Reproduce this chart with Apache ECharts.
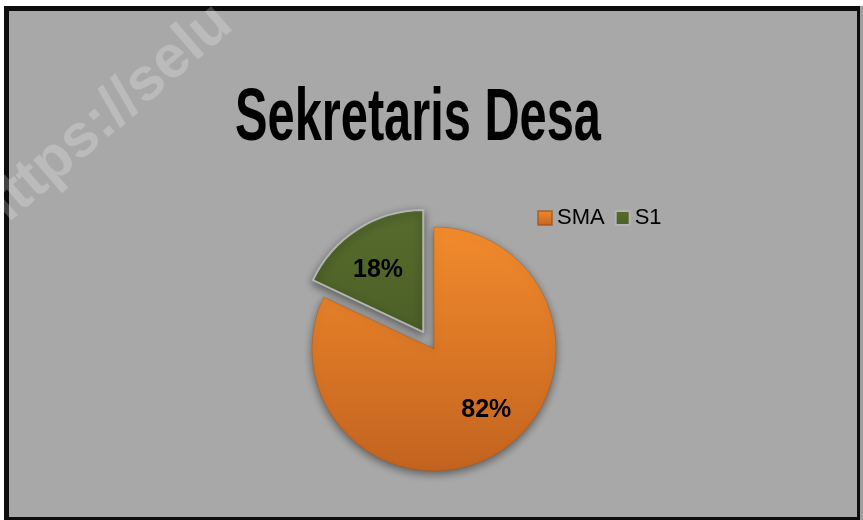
<!DOCTYPE html>
<html>
<head>
<meta charset="utf-8">
<script src="https://cdn.jsdelivr.net/npm/echarts@6/dist/echarts.min.js"></script>
<style>
  html, body { margin: 0; padding: 0; background: #ffffff; }
  #chart { width: 863px; height: 520px; }
</style>
</head>
<body>
<div id="chart"></div>
<script>
// data
const categories = ['SMA', 'S1'];
const values = [82, 18];
const titleText = 'Sekretaris Desa';
const watermarkText = 'https://selu';

const colors = [
  new echarts.graphic.LinearGradient(0, 0, 0, 1, [
    { offset: 0, color: '#f28b2d' },
    { offset: 1, color: '#c3631f' }
  ]),
  new echarts.graphic.LinearGradient(0, 0, 0, 1, [
    { offset: 0, color: '#576c2d' },
    { offset: 1, color: '#4c5f26' }
  ])
];

const chart = echarts.init(document.getElementById('chart'));

const pieData = categories.map((name, i) => ({
  name: name,
  value: values[i],
  selected: i === 1,
  itemStyle: {
    color: colors[i],
    borderColor: i === 1 ? '#b4b4b4' : 'rgba(160,80,20,0.6)',
    borderWidth: i === 1 ? 2 : 0.6
  }
}));

const option = {
  animation: false,
  backgroundColor: '#ffffff',
  graphic: [
    // frame
    { type: 'rect', z: -10, shape: { x: 4, y: 6, width: 856, height: 520 }, style: { fill: '#0d0d0d' } },
    { type: 'rect', z: -9, shape: { x: 9, y: 11, width: 848, height: 506 }, style: { fill: '#a8a8a8' } },
    { type: 'rect', z: -9, shape: { x: 860, y: 6, width: 3, height: 520 }, style: { fill: '#9e9e9e' } },
    // title
    {
      type: 'text',
      x: 418,
      y: 119,
      scaleX: 0.65,
      z: 5,
      style: {
        text: titleText,
        fontFamily: 'Liberation Sans',
        fontWeight: 'bold',
        fontSize: 75,
        fill: '#000000',
        textAlign: 'center',
        textVerticalAlign: 'middle'
      }
    },
    // watermark
    {
      type: 'text',
      x: -18,
      y: 224,
      rotation: 0.712,
      z: 100,
      style: {
        text: watermarkText,
        fontFamily: 'Liberation Sans',
        fontWeight: 'bold',
        fontSize: 60,
        fill: 'rgba(255,255,255,0.22)',
        textAlign: 'left',
        textVerticalAlign: 'middle'
      }
    }
  ],
  legend: {
    left: 532,
    top: 202,
    itemWidth: 14,
    itemHeight: 14,
    itemGap: 10,
    icon: 'rect',
    selectedMode: false,
    itemStyle: { shadowBlur: 0 },
    textStyle: {
      fontFamily: 'Liberation Sans',
      fontSize: 22,
      color: '#000000',
      padding: [0, 0, 0, 0]
    },
    data: categories
  },
  series: [
    {
      type: 'pie',
      center: [434, 349],
      radius: 122,
      startAngle: 90,
      clockwise: true,
      selectedMode: 'single',
      selectedOffset: 20,
      avoidLabelOverlap: false,
      itemStyle: {
        shadowBlur: 8,
        shadowColor: 'rgba(0,0,0,0.45)',
        shadowOffsetY: 3
      },
      label: {
        show: true,
        position: 'inside',
        formatter: '{d}%',
        fontFamily: 'Liberation Sans',
        fontWeight: 'bold',
        fontSize: 25,
        color: '#000000'
      },
      labelLayout: function (params) {
        return params.dataIndex === 0 ? { dx: 18, dy: 7 } : { dx: -11, dy: -8 };
      },
      labelLine: { show: false },
      emphasis: { disabled: true },
      data: pieData
    }
  ]
};

chart.setOption(option);
</script>
</body>
</html>
